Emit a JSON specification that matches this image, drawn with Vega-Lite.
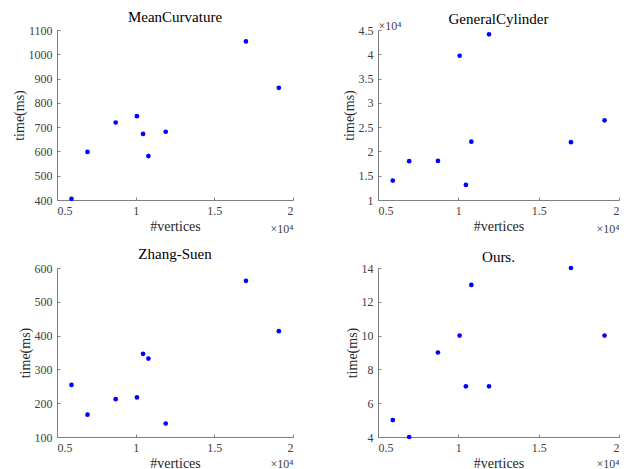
{
  "$schema": "https://vega.github.io/schema/vega-lite/v6.json",
  "background": "white",
  "padding": {"left": 12, "top": 10, "right": 5, "bottom": 0},
  "data": {"values": [
    {"method": "MeanCurvature", "vertices": 5920, "time": 405},
    {"method": "MeanCurvature", "vertices": 6940, "time": 598},
    {"method": "MeanCurvature", "vertices": 8730, "time": 719},
    {"method": "MeanCurvature", "vertices": 10080, "time": 745},
    {"method": "MeanCurvature", "vertices": 10470, "time": 672},
    {"method": "MeanCurvature", "vertices": 10810, "time": 581},
    {"method": "MeanCurvature", "vertices": 11910, "time": 681},
    {"method": "MeanCurvature", "vertices": 17010, "time": 1053},
    {"method": "MeanCurvature", "vertices": 19100, "time": 862},
    {"method": "GeneralCylinder", "vertices": 5920, "time": 14000},
    {"method": "GeneralCylinder", "vertices": 6940, "time": 18000},
    {"method": "GeneralCylinder", "vertices": 8730, "time": 18050},
    {"method": "GeneralCylinder", "vertices": 10080, "time": 39700},
    {"method": "GeneralCylinder", "vertices": 10470, "time": 13100},
    {"method": "GeneralCylinder", "vertices": 10810, "time": 22000},
    {"method": "GeneralCylinder", "vertices": 11910, "time": 44100},
    {"method": "GeneralCylinder", "vertices": 17010, "time": 21900},
    {"method": "GeneralCylinder", "vertices": 19100, "time": 26400},
    {"method": "Zhang-Suen", "vertices": 5920, "time": 254},
    {"method": "Zhang-Suen", "vertices": 6940, "time": 166},
    {"method": "Zhang-Suen", "vertices": 8730, "time": 212},
    {"method": "Zhang-Suen", "vertices": 10080, "time": 217},
    {"method": "Zhang-Suen", "vertices": 10470, "time": 346},
    {"method": "Zhang-Suen", "vertices": 10810, "time": 332},
    {"method": "Zhang-Suen", "vertices": 11910, "time": 140},
    {"method": "Zhang-Suen", "vertices": 17010, "time": 562},
    {"method": "Zhang-Suen", "vertices": 19100, "time": 413},
    {"method": "Ours.", "vertices": 5920, "time": 5},
    {"method": "Ours.", "vertices": 6940, "time": 4},
    {"method": "Ours.", "vertices": 8730, "time": 9},
    {"method": "Ours.", "vertices": 10080, "time": 10},
    {"method": "Ours.", "vertices": 10470, "time": 7},
    {"method": "Ours.", "vertices": 10810, "time": 13},
    {"method": "Ours.", "vertices": 11910, "time": 7},
    {"method": "Ours.", "vertices": 17010, "time": 14},
    {"method": "Ours.", "vertices": 19100, "time": 10}
  ]},
  "spacing": 13,
  "vconcat": [
    {
      "bounds": "flush",
      "spacing": 85,
      "hconcat": [
        {
          "title": {"text": "MeanCurvature", "offset": -1},
          "width": 236, "height": 170,
          "transform": [{"filter": "datum.method === 'MeanCurvature'"}],
          "layer": [
            {"mark": {"type": "circle", "color": "#0000ff", "size": 22, "opacity": 1},
             "encoding": {
               "x": {"field": "vertices", "type": "quantitative", "scale": {"domain": [5000, 20000], "nice": false, "zero": false},
                     "axis": {"title": "#vertices", "values": [5000, 10000, 15000, 20000], "labelExpr": "'' + datum.value/10000"}},
               "y": {"field": "time", "type": "quantitative", "scale": {"domain": [400, 1100], "nice": false, "zero": false},
                     "axis": {"title": "time(ms)", "values": [400, 500, 600, 700, 800, 900, 1000, 1100], "labelExpr": "'' + datum.value"}}
             }},
            {"mark": {"type": "circle", "opacity": 0},
             "encoding": {
               "x": {"field": "vertices", "type": "quantitative",
                     "axis": {"title": "×10⁴", "orient": "bottom", "labels": false, "ticks": false, "domain": false, "titleFontSize": 12, "titleColor": "#404040", "titleAlign": "right", "titleAnchor": null, "titleX": 236, "titleY": 32, "titleBaseline": "alphabetic"}}
             }}
          ],
          "resolve": {"axis": {"x": "independent"}}
        },
        {
          "title": {"text": "GeneralCylinder", "offset": -8},
          "width": 241, "height": 170,
          "transform": [{"filter": "datum.method === 'GeneralCylinder'"}],
          "layer": [
            {"mark": {"type": "circle", "color": "#0000ff", "size": 22, "opacity": 1},
             "encoding": {
               "x": {"field": "vertices", "type": "quantitative", "scale": {"domain": [5000, 20000], "nice": false, "zero": false},
                     "axis": {"title": "#vertices", "values": [5000, 10000, 15000, 20000], "labelExpr": "'' + datum.value/10000"}},
               "y": {"field": "time", "type": "quantitative", "scale": {"domain": [10000, 45000], "nice": false, "zero": false},
                     "axis": {"title": "time(ms)", "values": [10000, 15000, 20000, 25000, 30000, 35000, 40000, 45000], "labelExpr": "'' + datum.value/10000"}}
             }},
            {"mark": {"type": "circle", "opacity": 0},
             "encoding": {
               "x": {"field": "vertices", "type": "quantitative",
                     "axis": {"title": "×10⁴", "orient": "bottom", "labels": false, "ticks": false, "domain": false, "titleFontSize": 12, "titleColor": "#404040", "titleAlign": "right", "titleAnchor": null, "titleX": 241, "titleY": 32, "titleBaseline": "alphabetic"}}
             }},
            {"mark": {"type": "circle", "opacity": 0},
             "encoding": {
               "y": {"field": "time", "type": "quantitative",
                     "axis": {"title": "×10⁴", "orient": "left", "labels": false, "ticks": false, "domain": false, "titleFontSize": 12, "titleColor": "#404040", "titleAngle": 0, "titleAlign": "left", "titleAnchor": null, "titleX": 0, "titleY": -1, "titleBaseline": "alphabetic"}}
             }}
          ],
          "resolve": {"axis": {"x": "independent", "y": "independent"}}
        }
      ]
    },
    {
      "bounds": "flush",
      "spacing": 85,
      "hconcat": [
        {
          "title": {"text": "Zhang-Suen", "offset": 0},
          "width": 236, "height": 169,
          "transform": [{"filter": "datum.method === 'Zhang-Suen'"}],
          "layer": [
            {"mark": {"type": "circle", "color": "#0000ff", "size": 22, "opacity": 1},
             "encoding": {
               "x": {"field": "vertices", "type": "quantitative", "scale": {"domain": [5000, 20000], "nice": false, "zero": false},
                     "axis": {"title": "#vertices", "values": [5000, 10000, 15000, 20000], "labelExpr": "'' + datum.value/10000"}},
               "y": {"field": "time", "type": "quantitative", "scale": {"domain": [100, 600], "nice": false, "zero": false},
                     "axis": {"title": "time(ms)", "values": [100, 200, 300, 400, 500, 600], "labelExpr": "'' + datum.value"}}
             }},
            {"mark": {"type": "circle", "opacity": 0},
             "encoding": {
               "x": {"field": "vertices", "type": "quantitative",
                     "axis": {"title": "×10⁴", "orient": "bottom", "labels": false, "ticks": false, "domain": false, "titleFontSize": 12, "titleColor": "#404040", "titleAlign": "right", "titleAnchor": null, "titleX": 236, "titleY": 30, "titleBaseline": "alphabetic"}}
             }}
          ],
          "resolve": {"axis": {"x": "independent"}}
        },
        {
          "title": {"text": "Ours.", "offset": -3},
          "width": 241, "height": 169,
          "transform": [{"filter": "datum.method === 'Ours.'"}],
          "layer": [
            {"mark": {"type": "circle", "color": "#0000ff", "size": 22, "opacity": 1},
             "encoding": {
               "x": {"field": "vertices", "type": "quantitative", "scale": {"domain": [5000, 20000], "nice": false, "zero": false},
                     "axis": {"title": "#vertices", "values": [5000, 10000, 15000, 20000], "labelExpr": "'' + datum.value/10000"}},
               "y": {"field": "time", "type": "quantitative", "scale": {"domain": [4, 14], "nice": false, "zero": false},
                     "axis": {"title": "time(ms)", "values": [4, 6, 8, 10, 12, 14], "labelExpr": "'' + datum.value"}}
             }},
            {"mark": {"type": "circle", "opacity": 0},
             "encoding": {
               "x": {"field": "vertices", "type": "quantitative",
                     "axis": {"title": "×10⁴", "orient": "bottom", "labels": false, "ticks": false, "domain": false, "titleFontSize": 12, "titleColor": "#404040", "titleAlign": "right", "titleAnchor": null, "titleX": 241, "titleY": 30, "titleBaseline": "alphabetic"}}
             }}
          ],
          "resolve": {"axis": {"x": "independent"}}
        }
      ]
    }
  ],
  "config": {
    "view": {"stroke": null},
    "title": {"font": "Liberation Serif", "fontSize": 15, "fontWeight": "normal", "color": "#000000"},
    "axis": {
      "grid": false,
      "labelFont": "Liberation Serif", "labelFontSize": 12, "labelColor": "#404040",
      "titleFont": "Liberation Serif", "titleFontSize": 14, "titleFontWeight": "normal", "titleColor": "#262626",
      "domainColor": "#808080", "tickColor": "#808080", "tickSize": -3, "labelPadding": 8
    },
    "axisX": {"titlePadding": 3},
    "axisY": {"titlePadding": 2}
  }
}
